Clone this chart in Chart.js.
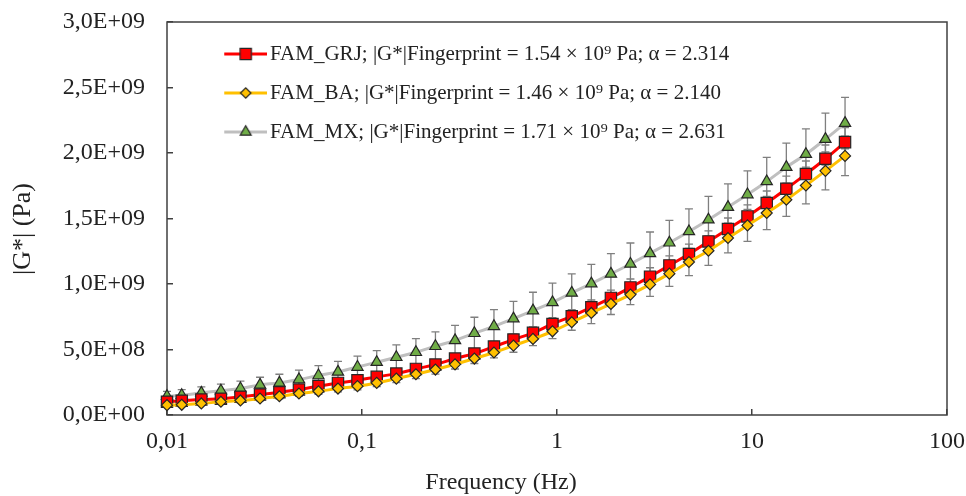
<!DOCTYPE html>
<html>
<head>
<meta charset="utf-8">
<script src="https://cdn.jsdelivr.net/npm/chart.js@4.4.1/dist/chart.umd.min.js"></script>
<style>
  html, body { margin: 0; padding: 0; background: #fff; }
</style>
</head>
<body>
<canvas id="gChart" width="966" height="496"></canvas>
<script>
// frequenze (Hz)
const freq = [0.01, 0.0119, 0.0150, 0.0189, 0.0238, 0.0300, 0.0377, 0.0475, 0.0598, 0.0753,
              0.0948, 0.119, 0.150, 0.189, 0.238, 0.300, 0.377, 0.475, 0.598, 0.753,
              0.948, 1.19, 1.50, 1.89, 2.38, 3.00, 3.77, 4.75, 5.98, 7.53,
              9.48, 11.9, 15.0, 18.9, 23.8, 30.0];

// |G*| (Pa)
const grj = [1.01e8, 1.08e8, 1.18e8, 1.24e8, 1.39e8, 1.56e8, 1.74e8, 1.94e8, 2.20e8, 2.45e8,
             2.65e8, 2.91e8, 3.16e8, 3.52e8, 3.85e8, 4.31e8, 4.69e8, 5.22e8, 5.76e8, 6.27e8,
             6.95e8, 7.53e8, 8.22e8, 8.94e8, 9.74e8, 10.56e8, 11.42e8, 12.29e8, 13.25e8, 14.20e8,
             15.16e8, 16.18e8, 17.27e8, 18.39e8, 19.56e8, 20.83e8];
const ba = [0.75e8, 0.78e8, 0.88e8, 1.01e8, 1.11e8, 1.26e8, 1.43e8, 1.64e8, 1.81e8, 2.02e8,
            2.20e8, 2.45e8, 2.78e8, 3.11e8, 3.47e8, 3.87e8, 4.31e8, 4.77e8, 5.30e8, 5.81e8,
            6.39e8, 7.08e8, 7.79e8, 8.48e8, 9.19e8, 9.97e8, 10.79e8, 11.68e8, 12.54e8, 13.51e8,
            14.47e8, 15.42e8, 16.43e8, 17.52e8, 18.64e8, 19.78e8];
const mx = [1.43e8, 1.51e8, 1.69e8, 1.85e8, 2.02e8, 2.30e8, 2.45e8, 2.71e8, 3.01e8, 3.29e8,
            3.66e8, 4.03e8, 4.41e8, 4.79e8, 5.25e8, 5.70e8, 6.24e8, 6.77e8, 7.36e8, 7.97e8,
            8.60e8, 9.32e8, 10.03e8, 10.77e8, 11.53e8, 12.34e8, 13.15e8, 14.01e8, 14.91e8, 15.87e8,
            16.83e8, 17.83e8, 18.92e8, 19.91e8, 21.06e8, 22.28e8];

// barre di errore (deviazione, Pa)
const grjErr = [0.08e8, 0.09e8, 0.10e8, 0.11e8, 0.12e8, 0.13e8, 0.14e8, 0.16e8, 0.18e8, 0.20e8,
                0.22e8, 0.24e8, 0.26e8, 0.28e8, 0.30e8, 0.33e8, 0.36e8, 0.39e8, 0.42e8, 0.45e8,
                0.48e8, 0.52e8, 0.56e8, 0.60e8, 0.64e8, 0.68e8, 0.72e8, 0.76e8, 0.80e8, 0.84e8,
                0.88e8, 0.92e8, 0.96e8, 1.00e8, 1.05e8, 1.10e8];
const baErr = [0.12e8, 0.13e8, 0.14e8, 0.15e8, 0.16e8, 0.18e8, 0.20e8, 0.22e8, 0.24e8, 0.26e8,
               0.28e8, 0.29e8, 0.31e8, 0.33e8, 0.35e8, 0.36e8, 0.38e8, 0.41e8, 0.51e8, 0.51e8,
               0.56e8, 0.61e8, 0.81e8, 0.81e8, 0.76e8, 0.91e8, 0.97e8, 1.04e8, 1.12e8, 1.14e8,
               1.22e8, 1.27e8, 1.27e8, 1.40e8, 1.45e8, 1.50e8];
const mxErr = [0.38e8, 0.43e8, 0.46e8, 0.51e8, 0.56e8, 0.58e8, 0.66e8, 0.71e8, 0.76e8, 0.81e8,
               0.84e8, 0.89e8, 0.94e8, 1.04e8, 1.09e8, 1.14e8, 1.22e8, 1.27e8, 1.32e8, 1.40e8,
               1.47e8, 1.45e8, 1.47e8, 1.55e8, 1.60e8, 1.63e8, 1.70e8, 1.73e8, 1.78e8, 1.78e8,
               1.80e8, 1.83e8, 1.83e8, 1.93e8, 1.98e8, 1.96e8];

const seriesNames = [
    "FAM_GRJ; |G*|Fingerprint = 1.54 × 10⁹ Pa; α = 2.314",
    "FAM_BA; |G*|Fingerprint = 1.46 × 10⁹ Pa; α = 2.140",
    "FAM_MX; |G*|Fingerprint = 1.71 × 10⁹ Pa; α = 2.631"
];
const xTickValues = [0.01, 0.1, 1, 10, 100];
const xTitle = 'Frequency (Hz)';
const yTitle = '|G*| (Pa)';
const errors = [grjErr, baErr, mxErr];

const serif = "'Times New Roman', 'Liberation Serif', serif";
const textColor = '#222222';
const axisColor = '#404040';

function toPoints(vals) {
    return vals.map((v, i) => ({ x: freq[i], y: v }));
}

// formato tipo Excel: 2,5E+09
function fmtExp(v) {
    if (v === 0) return '0,0E+00';
    const e = Math.floor(Math.log10(v) + 1e-9);
    const m = v / Math.pow(10, e);
    return m.toFixed(1).replace('.', ',') + 'E+' + String(e).padStart(2, '0');
}

// icona legenda: linea + marcatore (immagine larga 90, linea sulla parte destra)
function makeIcon(lineColor, style, fill, radius) {
    const c = document.createElement('canvas');
    c.width = 90; c.height = 20;
    const g = c.getContext('2d');
    g.strokeStyle = lineColor; g.lineWidth = 3;
    g.beginPath(); g.moveTo(47, 10); g.lineTo(90, 10); g.stroke();
    g.fillStyle = fill; g.strokeStyle = '#262626'; g.lineWidth = 1.2;
    Chart.helpers.drawPoint(g, { pointStyle: style, radius: radius, rotation: 0, borderWidth: 1.2 }, 68.5, 10);
    return c;
}
const legendIcons = [
    makeIcon('#ff0000', 'rect', '#ff0000', 8),
    makeIcon('#ffc000', 'rectRot', '#ffc000', 5.2),
    makeIcon('#bfbfbf', 'triangle', '#70ad47', 6.3)
];

// barre di errore + cornice dell'area del grafico
const errorBarPlugin = {
    id: 'errorBars',
    beforeDatasetsDraw(chart) {
        const { ctx, chartArea, scales: { x, y } } = chart;
        ctx.save();
        ctx.strokeStyle = axisColor;
        ctx.lineWidth = 1.5;
        ctx.strokeRect(chartArea.left, chartArea.top, chartArea.right - chartArea.left, chartArea.bottom - chartArea.top);
        ctx.strokeStyle = '#7f7f7f';
        ctx.lineWidth = 1.3;
        chart.data.datasets.forEach((ds, i) => {
            ds.data.forEach((p, j) => {
                const px = x.getPixelForValue(p.x);
                const top = y.getPixelForValue(p.y + errors[i][j]);
                const bot = y.getPixelForValue(p.y - errors[i][j]);
                ctx.beginPath();
                ctx.moveTo(px, top); ctx.lineTo(px, bot);
                ctx.moveTo(px - 4, top); ctx.lineTo(px + 4, top);
                ctx.moveTo(px - 4, bot); ctx.lineTo(px + 4, bot);
                ctx.stroke();
            });
        });
        ctx.restore();
    }
};

// titoli degli assi (come in Excel, non centrati sull'area del grafico)
const axisTitlePlugin = {
    id: 'axisTitles',
    afterDraw(chart) {
        const c = chart.ctx;
        c.save();
        c.fillStyle = textColor;
        c.textAlign = 'center';
        c.textBaseline = 'middle';
        c.font = '24px ' + serif;
        c.fillText(xTitle, 501, 483);
        c.translate(23, 229);
        c.rotate(-Math.PI / 2);
        c.font = '26px ' + serif;
        c.fillText(yTitle, 0, 0);
        c.restore();
    }
};

Chart.defaults.font.family = serif;
Chart.defaults.color = textColor;

const ctx = document.getElementById('gChart').getContext('2d');
const chart = new Chart(ctx, {
    type: 'line',
    data: {
        datasets: [
            {
                label: seriesNames[0],
                data: toPoints(grj),
                borderColor: '#ff0000',
                borderWidth: 3,
                backgroundColor: '#ff0000',
                pointStyle: 'rect',
                pointRadius: 8,
                pointBorderColor: '#262626',
                pointBorderWidth: 1.2,
                tension: 0.4,
                clip: false,
                order: 1
            },
            {
                label: seriesNames[1],
                data: toPoints(ba),
                borderColor: '#ffc000',
                borderWidth: 3,
                backgroundColor: '#ffc000',
                pointStyle: 'rectRot',
                pointRadius: 5.5,
                pointBorderColor: '#262626',
                pointBorderWidth: 1.2,
                tension: 0.4,
                clip: false,
                order: 0
            },
            {
                label: seriesNames[2],
                data: toPoints(mx),
                borderColor: '#bfbfbf',
                borderWidth: 3,
                backgroundColor: '#70ad47',
                pointStyle: 'triangle',
                pointRadius: 6.5,
                pointBorderColor: '#262626',
                pointBorderWidth: 1.2,
                tension: 0.4,
                clip: false,
                order: 2
            }
        ]
    },
    options: {
        responsive: false,
        devicePixelRatio: 1,
        animation: false,
        layout: { padding: { left: 8, right: 19, top: 22, bottom: 0 } },
        plugins: {
            tooltip: { enabled: false },
            legend: {
                position: 'chartArea',
                align: 'start',
                // titolo vuoto: serve solo a spostare la legenda in basso
                title: { display: true, text: '', font: { size: 25.5, lineHeight: 1 }, padding: 0 },
                labels: {
                    usePointStyle: true,
                    pointStyleWidth: 74.5,
                    padding: 18,
                    color: textColor,
                    font: { size: 21, family: serif },
                    generateLabels(chart) {
                        const items = Chart.defaults.plugins.legend.labels.generateLabels(chart);
                        items.sort((a, b) => a.datasetIndex - b.datasetIndex);
                        items.forEach(it => { it.pointStyle = legendIcons[it.datasetIndex]; });
                        return items;
                    }
                }
            }
        },
        scales: {
            x: {
                type: 'logarithmic',
                min: 0.01,
                max: 100,
                afterBuildTicks: axis => { axis.ticks = xTickValues.map(v => ({ value: v })); },
                afterFit: axis => { axis.height = 81; axis.paddingLeft = 0; axis.paddingRight = 0; },
                border: { display: false },
                grid: { drawOnChartArea: false, drawTicks: true, tickLength: -6, color: axisColor, lineWidth: 1.5 },
                ticks: {
                    autoSkip: false,
                    maxRotation: 0,
                    padding: 18,
                    font: { size: 24 },
                    callback: v => String(v).replace('.', ',')
                }
            },
            y: {
                min: 0,
                max: 3e9,
                afterFit: axis => { axis.width = 159; axis.paddingTop = 0; axis.paddingBottom = 0; },
                border: { display: false },
                grid: { drawOnChartArea: false, drawTicks: true, tickLength: -6, color: axisColor, lineWidth: 1.5 },
                ticks: {
                    stepSize: 5e8,
                    padding: 28,
                    font: { size: 24 },
                    callback: v => fmtExp(v)
                }
            }
        }
    },
    plugins: [errorBarPlugin, axisTitlePlugin]
});
</script>
</body>
</html>
